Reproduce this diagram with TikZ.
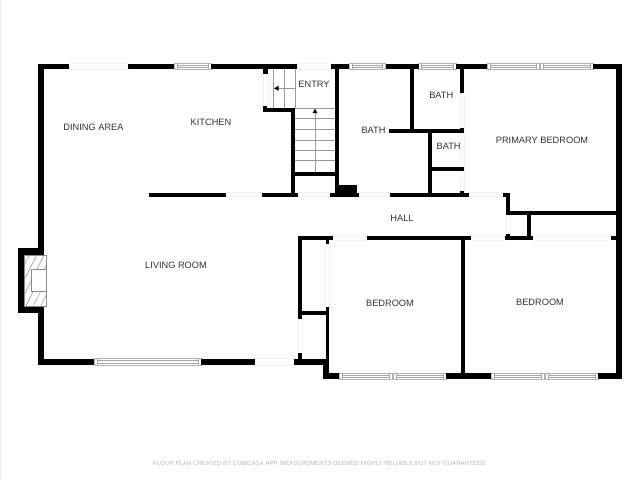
\documentclass[tikz,border=0pt]{standalone}
\usepackage{fontspec}
\setmainfont{Liberation Sans}
\usetikzlibrary{arrows.meta}
\tikzset{
  x=1pt,y=-1pt,
  wall/.style={fill=black,draw=none},
  wframe/.style={draw=black!30,line width=0.6pt,fill=white},
  wpane/.style={draw=black!35,line width=0.5pt,fill=white},
  opening/.style={draw=black!5,line width=0.5pt,fill=white},
  thinline/.style={draw=black!40,line width=0.5pt},
  roomlabel/.style={font=\fontsize{9.25}{10}\selectfont,text=black!80,inner sep=0pt},
  footer/.style={font=\fontsize{6.05}{7}\selectfont,text=black!28,inner sep=0pt},
}
\newcommand{\wl}[4]{\fill[wall] (#1,#2) rectangle (#3,#4);}
\newcommand{\hwin}[4]{%
  \draw[wframe] (#1,#3) rectangle (#2,#4);
  \draw[wpane] (#1+3,#3) -- (#1+3,#4) (#2-3,#3) -- (#2-3,#4);
  \draw[wpane] (#1+3,#3+2) -- (#2-3,#3+2) (#1+3,#4-2) -- (#2-3,#4-2);}
\newcommand{\hwindouble}[4]{%
  \pgfmathsetmacro{\midx}{(#1+#2)/2}
  \hwin{#1}{\midx-0.5}{#3}{#4}\hwin{\midx+0.5}{#2}{#3}{#4}}
\begin{document}
\begin{tikzpicture}
\useasboundingbox (0,0) rectangle (640,480);
\fill[white] (0,0) rectangle (640,480);
\fill[black!7] (0,0) rectangle (0.9,480);
% openings
\foreach \a/\b/\c/\d in {69/128/63.5/69, 297/331/63.5/69, 226/262/192.7/196.5, 298/330/192.7/196.5,
  359/390/192.7/196.5, 469/503/192.7/196.5, 333/367/236/240, 471/505/236/240, 533/611/236/240,
  255/294/358.5/365, 298/302/319/353, 325.5/329/244/307, 506/510/215/233, 460/464/93/128, 460/464/132/191,
  263/268/74/105}
  \draw[opening] (\a,\c) rectangle (\b,\d);
% windows
\hwin{174}{211}{63.5}{69}
\hwin{349}{385.5}{63.5}{69}
\hwin{418.5}{456}{63.5}{69}
\hwindouble{487}{593}{63.5}{69}
\hwin{94}{201}{358.5}{365}
\hwindouble{339}{446}{373}{379}
\hwindouble{491}{598}{373}{379}
% exterior walls
\wl{38}{63.5}{69}{69}
\wl{128}{63.5}{174}{69}
\wl{211}{63.5}{297}{69}
\wl{331}{63.5}{349}{69}
\wl{385.5}{63.5}{418.5}{69}
\wl{456}{63.5}{487}{69}
\wl{593}{63.5}{622}{69}
\wl{616}{63.5}{622}{379}
\wl{38}{63.5}{44.3}{255}
\wl{18}{248}{44.3}{255}
\wl{18}{248}{24}{312.7}
\wl{18}{306.5}{44.3}{312.7}
\wl{38}{306.5}{44.3}{365}
\wl{38}{358.5}{94}{365}
\wl{201}{358.5}{255}{365}
\wl{294}{358.5}{326}{365}
\wl{322.7}{358.5}{329}{379}
\wl{322.7}{373}{339}{379}
\wl{446}{373}{491}{379}
\wl{598}{373}{622}{379}
% interior walls
\wl{149}{192.7}{226}{196.5}
\wl{262}{192.7}{298}{196.5}
\wl{330}{192.7}{359}{196.5}
\wl{390}{192.7}{469}{196.5}
\wl{291}{108}{295}{196}
\wl{263}{108}{295}{112}
\wl{263}{105.5}{267}{112}
\wl{263}{69}{268}{73.5}
\wl{295}{172}{336}{175.7}
\wl{335}{63.5}{338.5}{196}
\wl{335}{185}{357.3}{196}
\wl{410}{69}{414.3}{131}
\wl{388.5}{128.7}{464}{132.7}
\wl{460}{69}{464}{93.3}
\wl{460}{128}{464}{132.7}
\wl{428}{132}{432}{196}
\wl{432}{167}{464}{170.5}
\wl{460}{191}{464}{194}
\wl{503.3}{192.7}{510}{196.5}
\wl{506.3}{192.7}{510.3}{215}
\wl{506.3}{211}{616}{215}
\wl{527}{215}{531}{238}
\wl{505}{236}{533}{240}
\wl{506.3}{233.5}{510.3}{238}
\wl{298}{236}{333}{240}
\wl{367}{236}{471}{240}
\wl{611}{236}{616}{240}
\wl{298}{236}{302}{319}
\wl{298}{310.7}{326}{314.5}
\wl{298}{353}{302}{360}
\wl{325.5}{238}{329}{244}
\wl{325.5}{307}{329}{375}
\wl{460.5}{236}{464.5}{375}
% stairs
\foreach \yy in {118.3,129,140,150,160.7}
  \draw[thinline] (295,\yy) -- (335,\yy);
\draw[thinline] (295,108.3) -- (335,108.3);
\draw[thinline] (295,69) -- (295,108);
\draw[thinline] (273.5,69) -- (273.5,108);
\draw[thinline] (284,69) -- (284,108);
\draw[thinline] (278,88.3) -- (295,88.3);
\fill[black] (274,88.3) -- (278.5,85.8) -- (278.5,90.8) -- cycle;
\draw[thinline] (315,172) -- (315,113);
\fill[black] (315,108.6) -- (317.5,113.2) -- (312.5,113.2) -- cycle;
% fireplace
\draw[black!45,line width=0.5pt,fill=white] (24,255) rectangle (46.7,306.7);
\begin{scope}
\clip (24,255) rectangle (46.7,306.7);
\foreach \k in {0,...,8}
  \draw[black!50,line width=0.4pt] (-4+\k*7.4,306.7) -- ++(26,-52);
\end{scope}
\draw[black!45,line width=0.5pt,fill=white] (31.7,269.3) rectangle (46.7,291.3);
% labels
\node[roomlabel] (dining) at (93.5,127) {DINING AREA};
\node[roomlabel] (kitchen) at (211,122) {KITCHEN};
\node[roomlabel] (entry) at (314,84) {ENTRY};
\node[roomlabel] (batha) at (373.5,130.5) {BATH};
\node[roomlabel] (bathb) at (441.3,95) {BATH};
\node[roomlabel] (bathc) at (448.6,146) {BATH};
\node[roomlabel] (primary) at (542,140) {PRIMARY BEDROOM};
\node[roomlabel] (hall) at (402,218.5) {HALL};
\node[roomlabel] (living) at (176,265) {LIVING ROOM};
\node[roomlabel] (beda) at (390,303.5) {BEDROOM};
\node[roomlabel] (bedb) at (540,302.5) {BEDROOM};
\node[footer] (credit) at (320,463.5) {FLOOR PLAN CREATED BY CUBICASA APP. MEASUREMENTS DEEMED HIGHLY RELIABLE BUT NOT GUARANTEED.};
\end{tikzpicture}
\end{document}
